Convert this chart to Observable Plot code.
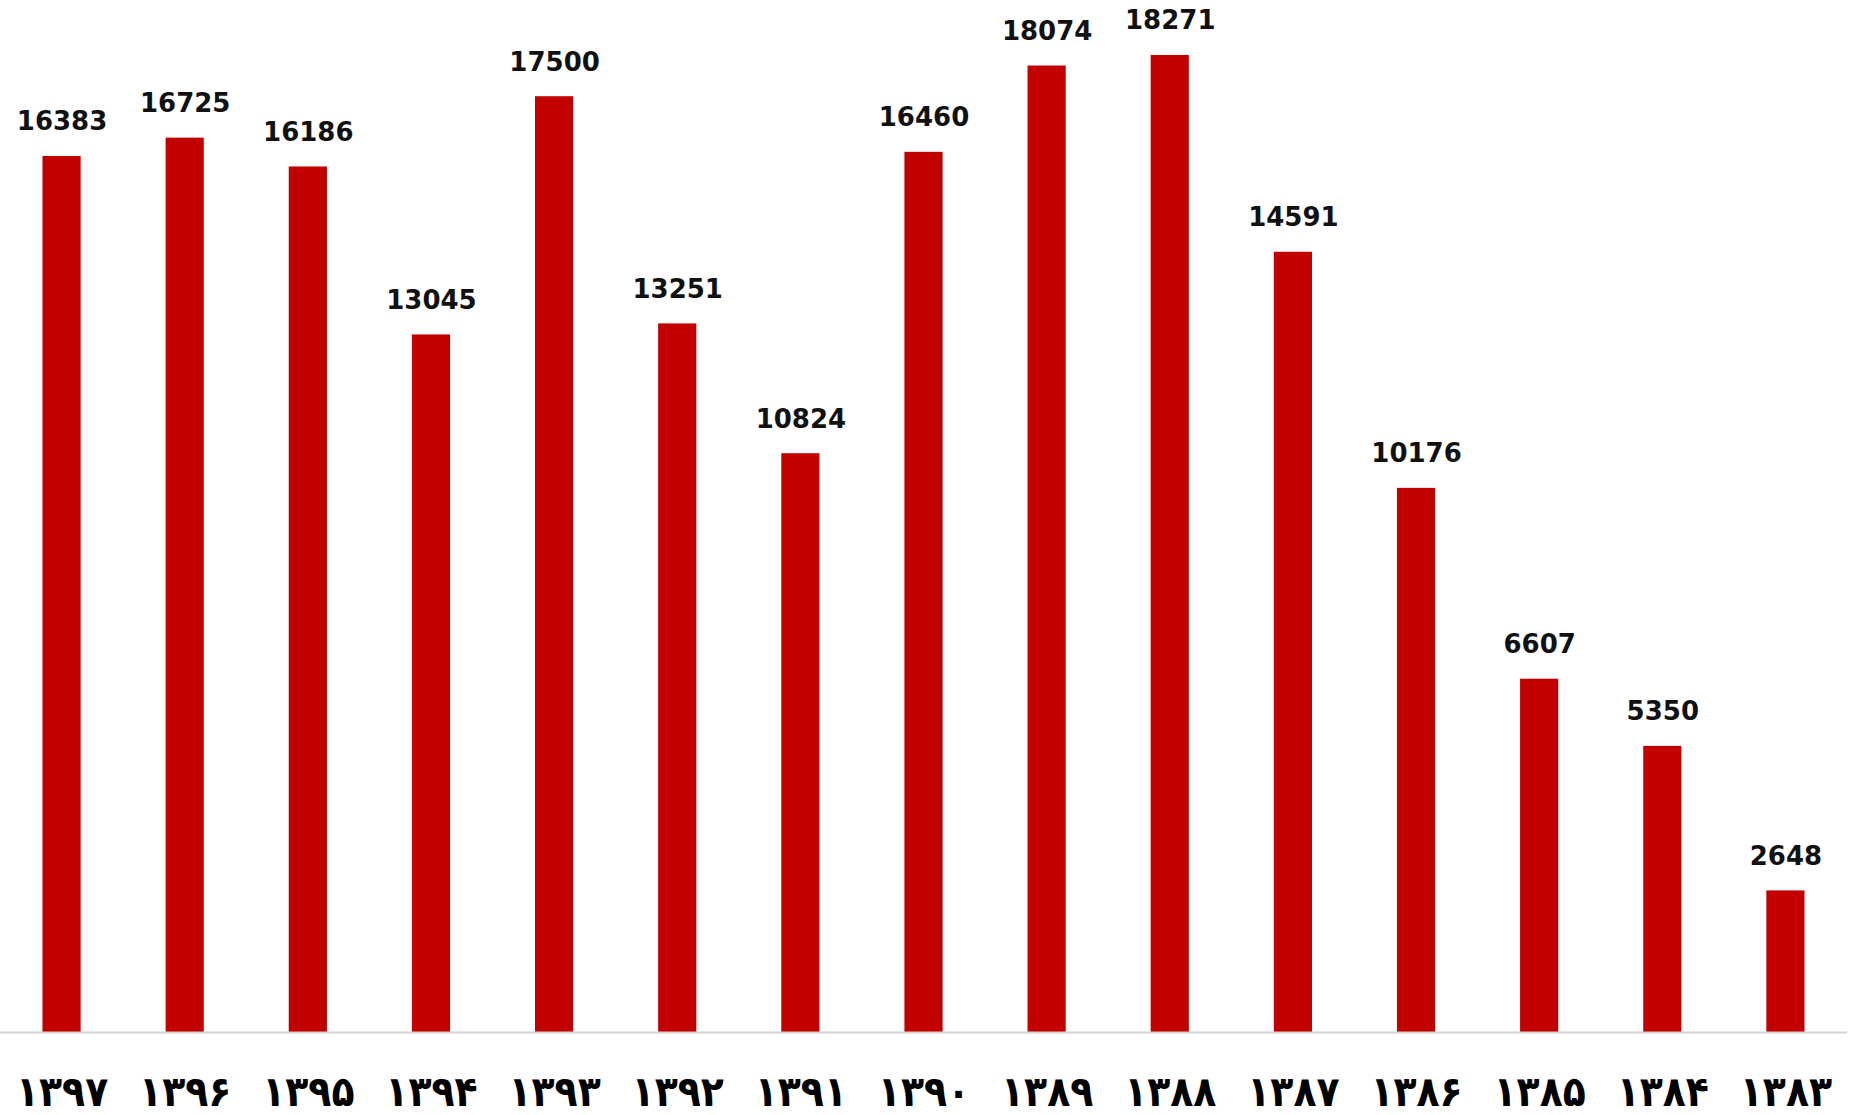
<!DOCTYPE html>
<html>
<head>
<meta charset="utf-8">
<script src="https://cdn.jsdelivr.net/npm/d3@7"></script>
<script src="https://cdn.jsdelivr.net/npm/@observablehq/plot@0.6"></script>
<style>
  html, body { margin: 0; padding: 0; background: #ffffff; }
  #chart svg { display: block; }
</style>
</head>
<body>
<div id="chart"></div>
<script>
const years = ["۱۳۹۷","۱۳۹۶","۱۳۹۵","۱۳۹۴","۱۳۹۳","۱۳۹۲","۱۳۹۱","۱۳۹۰","۱۳۸۹","۱۳۸۸","۱۳۸۷","۱۳۸۶","۱۳۸۵","۱۳۸۴","۱۳۸۳"];
const values = [16383, 16725, 16186, 13045, 17500, 13251, 10824, 16460, 18074, 18271, 14591, 10176, 6607, 5350, 2648];

const data = years.map((y, i) => ({year: y, value: values[i]}));

const chart = Plot.plot({
  width: 1854,
  height: 1115,
  marginLeft: 0,
  marginRight: 7,
  marginTop: 16,
  marginBottom: 83,
  style: {background: "#ffffff"},
  x: {domain: years, paddingInner: 0.69, paddingOuter: 0.345, round: false, label: null},
  y: {domain: [0, 19000], axis: null},
  marks: [
    Plot.barY(data, {x: "year", y: "value", fill: "#c20000"}),
    Plot.ruleY([0], {stroke: "#d4d4d4", strokeWidth: 2}),
    Plot.text(data, {
      x: "year", y: "value", text: d => String(d.value),
      lineAnchor: "bottom", dy: -26,
      fontFamily: "DejaVu Sans", fontWeight: "bold", fontSize: 26, fill: "#111111"
    }),
    Plot.axisX({
      tickSize: 0, tickPadding: 44, label: null,
      fontFamily: "DejaVu Sans Condensed", fontWeight: "bold", fontSize: 42, fill: "#000000"
    })
  ]
});
document.getElementById("chart").appendChild(chart);
</script>
</body>
</html>
